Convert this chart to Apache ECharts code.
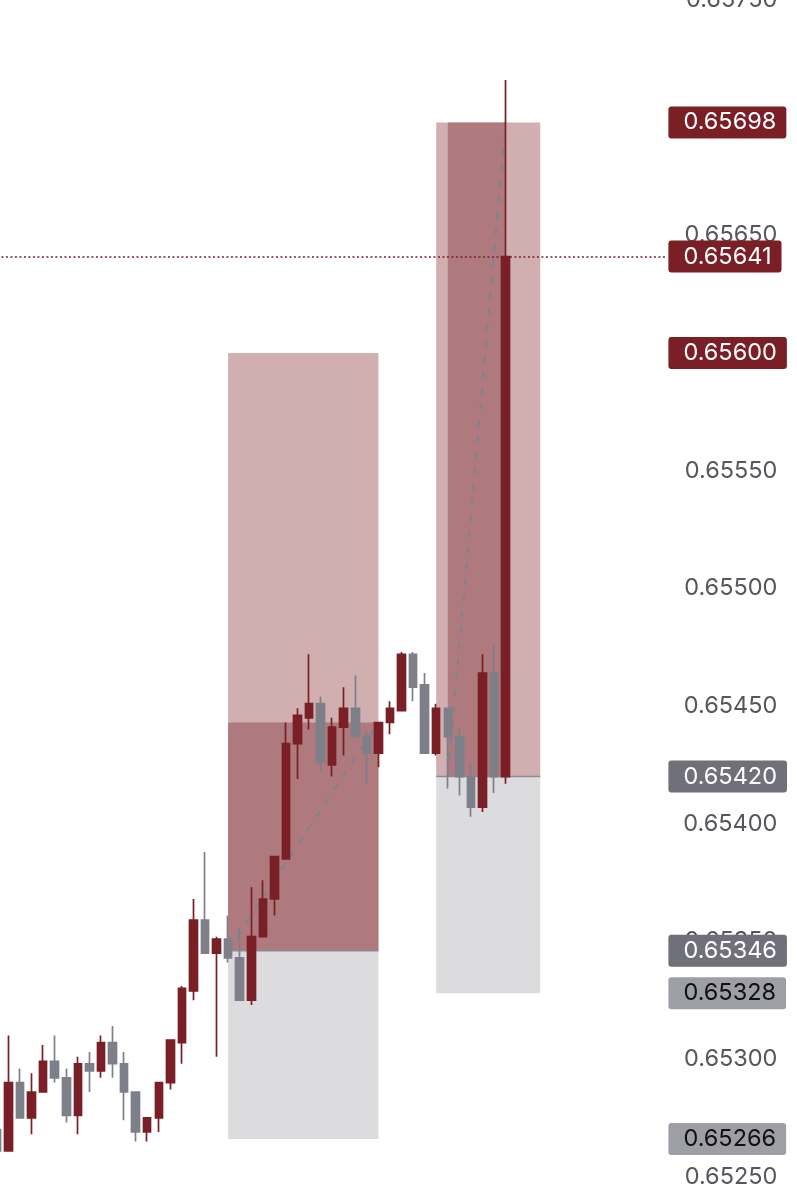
<!DOCTYPE html>
<html><head><meta charset="utf-8">
<script src="https://cdn.jsdelivr.net/npm/echarts@6/dist/echarts.min.js"></script>
<style>html,body{margin:0;padding:0;background:#fff}#c{width:797px;height:1200px}</style>
</head><body><div id="c"></div>
<script>
// ---- data ----
const categories = [];
for (let i = 0; i < 59; i++) categories.push(String(i));
const opens  = [0.65270,0.65261,0.65290,0.65275,0.65286,0.65299,0.65292,0.65276,0.65298,0.65295,0.65307,0.65298,0.65286,0.65269,0.65275,0.65290,0.65307,0.65329,0.65359,0.65345,0.65351,0.65343,0.65325,0.65352,0.65368,0.65385,0.65434,0.65445,0.65451,0.65425,0.65441,0.65449,0.65437,0.65430,0.65443,0.65448,0.65472,0.65459,0.65430,0.65449,0.65437,0.65420,0.65407,0.65464,0.65420];
const closes = [0.65261,0.65290,0.65275,0.65286,0.65299,0.65292,0.65276,0.65298,0.65295,0.65307,0.65298,0.65286,0.65269,0.65275,0.65290,0.65308,0.65330,0.65359,0.65345,0.65351,0.65343,0.65325,0.65352,0.65368,0.65386,0.65434,0.65446,0.65451,0.65426,0.65441,0.65449,0.65437,0.65430,0.65443,0.65449,0.65472,0.65458,0.65430,0.65449,0.65437,0.65420,0.65407,0.65464,0.65420,0.65641];
const lows   = [0.65260,0.65261,0.65275,0.65268,0.65286,0.65290,0.65273,0.65268,0.65286,0.65292,0.65292,0.65274,0.65265,0.65265,0.65269,0.65287,0.65298,0.65325,0.65345,0.65301,0.65341,0.65325,0.65323,0.65352,0.65361,0.65385,0.65419,0.65440,0.65422,0.65420,0.65429,0.65437,0.65417,0.65424,0.65438,0.65448,0.65452,0.65430,0.65429,0.65415,0.65412,0.65403,0.65405,0.65413,0.65417];
const highs  = [0.65272,0.65310,0.65296,0.65294,0.65306,0.65310,0.65296,0.65301,0.65303,0.65310,0.65314,0.65303,0.65286,0.65275,0.65290,0.65308,0.65331,0.65368,0.65388,0.65352,0.65361,0.65356,0.65373,0.65376,0.65386,0.65443,0.65449,0.65472,0.65454,0.65445,0.65458,0.65463,0.65439,0.65443,0.65452,0.65473,0.65473,0.65464,0.65451,0.65449,0.65441,0.65426,0.65472,0.65476,0.65716];

// position tools
const posStart = ['20', '38'];
const posEnd   = ['33', '47'];
const targets  = [0.65600, 0.65698];
const entries  = [0.65346, 0.65420];
const stops    = [0.65266, 0.65328];
const fillStart = ['20', '39'];
const fillEnd   = ['33', '44'];
const fillTop   = [0.65443, 0.65698];
const pathFrom = [['20', 0.65346], ['39', 0.65420]];
const pathTo   = [['33', 0.65443], ['44', 0.65698]];

// price badges
const lastPrice = 0.65641;
const redBadges = [0.65698, 0.65641, 0.65600];
const darkGrayBadges = [0.65346, 0.65420];
const lightGrayBadges = [0.65328, 0.65266];

const yMin = 0.65250, yMax = 0.65750, yStep = 0.00050;

// ---- styles ----
const RED = '#7a1f25', GRAY = '#7d7f89';
const FONT = 'Inter';
const FS = 23.5;
const firstCat = categories[0], lastCat = categories[categories.length - 1];

const candleData = opens.map((o, i) => [o, closes[i], lows[i], highs[i]]);

const areas = [];
for (let k = 0; k < 2; k++) {
  areas.push([{xAxis: posStart[k], yAxis: targets[k], itemStyle: {color: '#d1afb1'}}, {xAxis: posEnd[k], yAxis: entries[k]}]);
  areas.push([{xAxis: fillStart[k], yAxis: fillTop[k], itemStyle: {color: '#ae7a7e'}}, {xAxis: fillEnd[k], yAxis: entries[k]}]);
  areas.push([{xAxis: posStart[k], yAxis: entries[k], itemStyle: {color: '#dcdcdf'}}, {xAxis: posEnd[k], yAxis: stops[k]}]);
}

function hline(v, lineStyle, label) {
  return [{coord: [firstCat, v], lineStyle: lineStyle, label: label}, {coord: [lastCat, v]}];
}
function badge(v, bg, fg) {
  return hline(v, {color: 'rgba(0,0,0,0)', width: 1}, {
    show: true, position: 'end', distance: 1,
    formatter: v.toFixed(5),
    backgroundColor: bg, color: fg, fontSize: FS, fontFamily: FONT,
    padding: [4, 10, 3, 15], borderRadius: 3, lineHeight: 25
  });
}
const lineItems = [hline(lastPrice, {color: RED, width: 1.6, type: [2, 2.5]}, {show: false})];
redBadges.forEach(v => lineItems.push(badge(v, RED, '#ffffff')));
darkGrayBadges.forEach(v => lineItems.push(badge(v, '#6f707a', '#ffffff')));
lightGrayBadges.forEach(v => lineItems.push(badge(v, '#9d9ea6', '#111111')));

const series = [
  {
    type: 'line', data: [], z: 1, silent: true,
    markArea: {silent: true, data: areas}
  }
];
for (let k = 0; k < 2; k++) {
  series.push({
    type: 'line', z: 2, symbol: 'none', silent: true,
    data: [[posStart[k], entries[k]], [posEnd[k], entries[k]]],
    lineStyle: {color: '#8b8d96', width: 1.5}
  });
  series.push({
    type: 'line', z: 2, symbol: 'none', silent: true,
    data: [pathFrom[k], pathTo[k]],
    lineStyle: {color: '#7f8290', width: 2, type: [7, 9]}
  });
}
series.push({
  type: 'candlestick', z: 3, barWidth: 8,
  data: candleData,
  itemStyle: {color: RED, color0: GRAY, borderColor: RED, borderColor0: GRAY, borderWidth: 1.7}
});
series.push({
  type: 'line', data: [], z: 5, silent: true,
  markLine: {
    silent: true, symbol: ['none', 'none'], animation: false,
    data: lineItems
  }
});

const chart = echarts.init(document.getElementById('c'), null, {renderer: 'canvas'});
chart.setOption({
  animation: false,
  backgroundColor: '#ffffff',
  grid: {left: -3.06, right: 129.6, top: 0, bottom: 23.3, containLabel: false, outerBoundsMode: 'none'},
  xAxis: {
    type: 'category', data: categories, boundaryGap: false,
    axisLine: {show: false}, axisTick: {show: false}, axisLabel: {show: false}, splitLine: {show: false}
  },
  yAxis: {
    type: 'value', position: 'right', min: yMin, max: yMax, interval: yStep,
    axisLine: {show: false}, axisTick: {show: false}, splitLine: {show: false},
    axisLabel: {
      align: 'right', margin: 110, color: '#56565c', fontSize: FS, fontFamily: FONT,
      formatter: v => v.toFixed(5)
    }
  },
  series: series
});
</script></body></html>
